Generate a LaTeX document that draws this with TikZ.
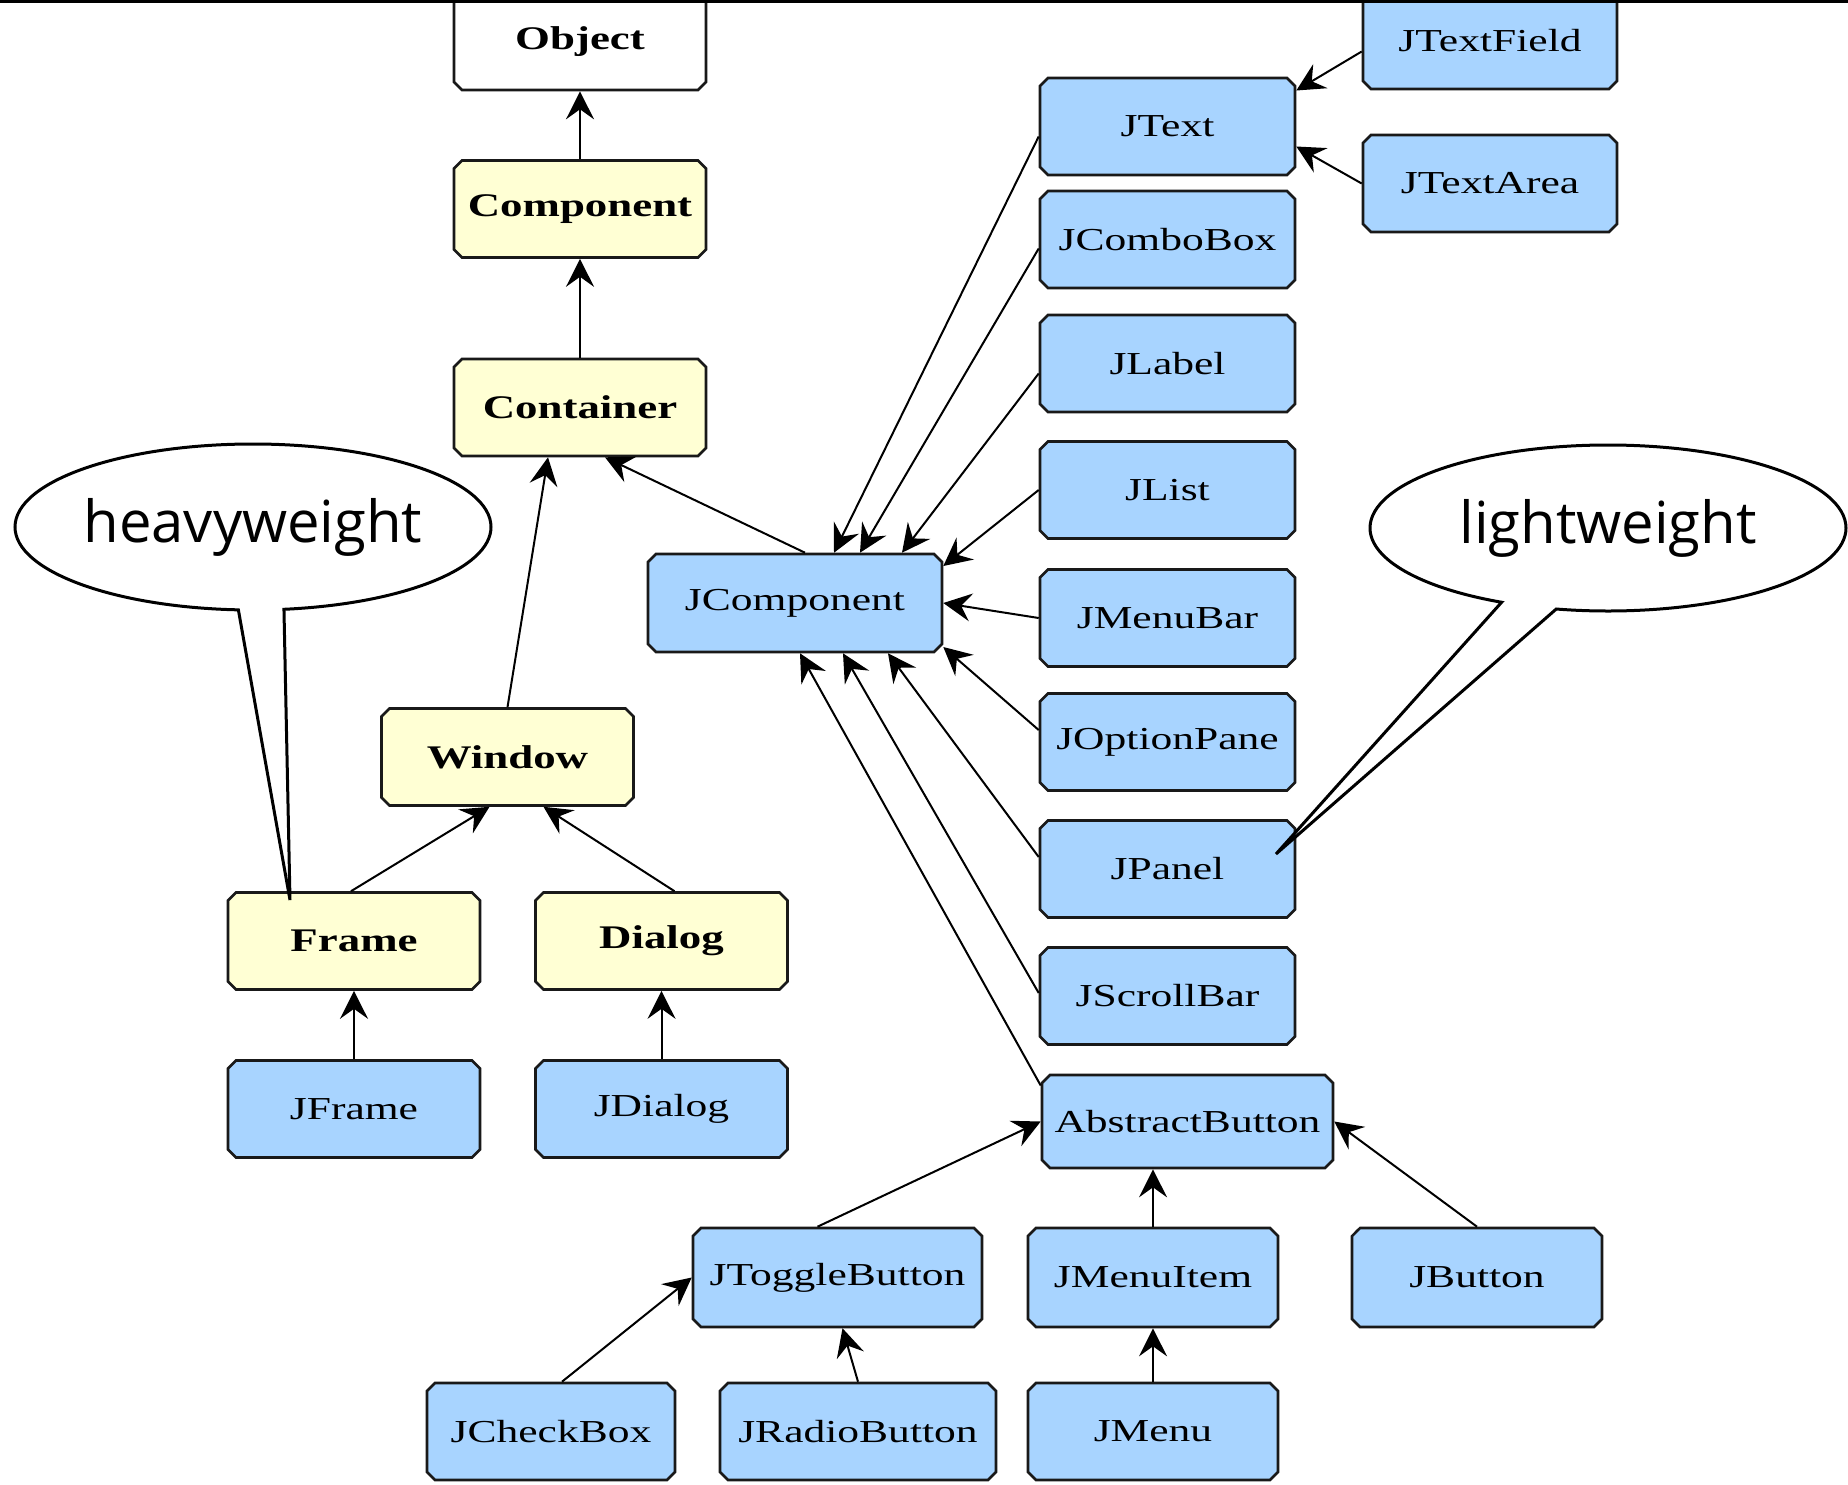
\documentclass[tikz,border=0pt]{standalone}
\usepackage{fontspec}
\setmainfont{Liberation Serif}
\newfontfamily\boxfont[FakeStretch=1.36]{Liberation Serif}
\newfontfamily\callfont{Open Sans}
\usetikzlibrary{shapes.misc,shapes.callouts,arrows.meta}
\definecolor{swingblue}{RGB}{168,212,255}
\definecolor{awtyellow}{RGB}{255,255,212}
\definecolor{boxline}{RGB}{25,25,25}
\begin{document}
\begin{tikzpicture}[x=1pt,y=-1pt,
  cls/.style={chamfered rectangle, chamfered rectangle xsep=5pt,
    draw=boxline, line width=2.6pt, minimum width=252pt, minimum height=97pt, inner sep=0pt,
    font=\boxfont\fontsize{32}{32}\selectfont},
  swing/.style={cls, fill=swingblue},
  awt/.style={cls, fill=awtyellow, font=\boxfont\bfseries\fontsize{33}{33}\selectfont},
  ext/.style={arrows={-Stealth[length=28pt,width=28pt,inset=10pt]}, line width=2pt},
  callout/.style={ellipse callout, draw=black, fill=white, line width=3pt,
    minimum width=476pt, minimum height=166pt, inner sep=0pt,
    font=\callfont\fontsize{58}{58}\selectfont}
]
\useasboundingbox (0,0) rectangle (1848,1484);
\fill[white] (0,0) rectangle (1848,1484);

% AWT hierarchy
\node[awt, fill=white] (object) at (580,41.5) {Object};
\node[awt] (component) at (580,209) {Component};
\node[awt] (container) at (580,407.5) {Container};
\node[awt] (window) at (507.5,757) {Window};
\node[awt] (frame) at (354,941) {Frame};
\node[awt] (dialog) at (661.5,941) {Dialog};
\node[swing] (jframe) at (354,1109) {JFrame};
\node[swing] (jdialog) at (661.5,1109) {JDialog};

% Swing
\node[swing, minimum width=294pt, minimum height=98pt] (jcomponent) at (795,603) {JComponent};
\node[swing, minimum width=255pt] (jtext) at (1167.5,126.5) {JText};
\node[swing, minimum width=255pt] (jcombobox) at (1167.5,239.5) {JComboBox};
\node[swing, minimum width=255pt] (jlabel) at (1167.5,363.5) {JLabel};
\node[swing, minimum width=255pt] (jlist) at (1167.5,490) {JList};
\node[swing, minimum width=255pt] (jmenubar) at (1167.5,618) {JMenuBar};
\node[swing, minimum width=255pt] (joptionpane) at (1167.5,742) {JOptionPane};
\node[swing, minimum width=255pt] (jpanel) at (1167.5,869) {JPanel};
\node[swing, minimum width=255pt] (jscrollbar) at (1167.5,996) {JScrollBar};
\node[swing, minimum width=291pt, minimum height=93pt] (abstractbutton) at (1187.5,1121.5) {AbstractButton};
\node[swing, minimum width=254pt] (jtextfield) at (1490,40.5) {JTextField};
\node[swing, minimum width=254pt] (jtextarea) at (1490,183.5) {JTextArea};
\node[swing, minimum width=289pt, minimum height=99pt] (jtogglebutton) at (837.5,1277.5) {JToggleButton};
\node[swing, minimum width=250pt, minimum height=99pt] (jmenuitem) at (1153,1277.5) {JMenuItem};
\node[swing, minimum width=250pt, minimum height=99pt] (jbutton) at (1477,1277.5) {JButton};
\node[swing, minimum width=248pt] (jcheckbox) at (551,1431.5) {JCheckBox};
\node[swing, minimum width=276pt] (jradiobutton) at (858,1431.5) {JRadioButton};
\node[swing, minimum width=250pt] (jmenu) at (1153,1431.5) {JMenu};

% top frame line
\draw[line width=2.5pt] (0,1.25) -- (1848,1.25);

% inheritance arrows
\draw[ext] (component.north) -- (object.south);
\draw[ext] (container.north) -- (component.south);
\draw[ext] (window.north) -- ([xshift=-32pt]container.south);
\draw[ext] ([xshift=10pt]jcomponent.north) -- ([xshift=25pt]container.south);
\draw[ext] ([xshift=-3pt]frame.north) -- ([xshift=-18pt]window.south);
\draw[ext] ([xshift=13pt]dialog.north) -- ([xshift=36pt]window.south);
\draw[ext] (jframe.north) -- (frame.south);
\draw[ext] (jdialog.north) -- (dialog.south);

\draw[ext] ([yshift=-10pt]jtext.west) -- ([xshift=39pt]jcomponent.north);
\draw[ext] ([yshift=-9pt]jcombobox.west) -- ([xshift=65pt]jcomponent.north);
\draw[ext] ([yshift=-10pt]jlabel.west) -- ([xshift=107pt]jcomponent.north);
\draw[ext] (jlist.west) -- ([yshift=37pt]jcomponent.east);
\draw[ext] (jmenubar.west) -- (jcomponent.east);
\draw[ext] ([yshift=12pt]joptionpane.west) -- ([yshift=-44pt]jcomponent.east);
\draw[ext] ([yshift=12pt]jpanel.west) -- ([xshift=93pt]jcomponent.south);
\draw[ext] ([yshift=3pt]jscrollbar.west) -- ([xshift=48pt]jcomponent.south);
\draw[ext] ([yshift=36pt]abstractbutton.west) -- ([xshift=5pt]jcomponent.south);

\draw[ext] ([yshift=-11pt]jtextfield.west) -- ([yshift=36pt]jtext.east);
\draw[ext] (jtextarea.west) -- ([yshift=-20pt]jtext.east);

\draw[ext] ([xshift=-20pt]jtogglebutton.north) -- (abstractbutton.west);
\draw[ext] (jmenuitem.north) -- (jmenuitem.north |- abstractbutton.south);
\draw[ext] (jbutton.north) -- (abstractbutton.east);
\draw[ext] ([xshift=11pt]jcheckbox.north) -- (jtogglebutton.west);
\draw[ext] (jradiobutton.north) -- ([xshift=5pt]jtogglebutton.south);
\draw[ext] (jmenu.north) -- (jmenuitem.south);

% callouts
\node[callout, callout absolute pointer={(290,900)}, callout pointer arc=11] (heavy) at (253,527) {\makebox[0pt]{heavyweight}};
\node[callout, callout absolute pointer={(1276,854)}, callout pointer arc=14] (light) at (1608,528) {\makebox[0pt]{lightweight}};
\end{tikzpicture}
\end{document}
